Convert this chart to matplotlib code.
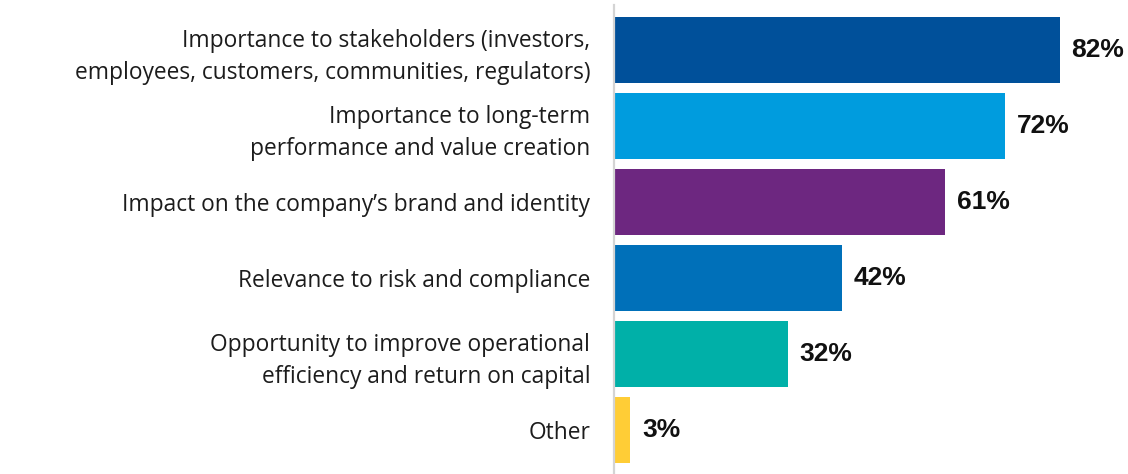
import matplotlib
matplotlib.use('Agg')
import matplotlib.pyplot as plt

# reasons / share of respondents
categories = [
    "Importance to stakeholders (investors,\nemployees, customers, communities, regulators)",
    "Importance to long-term\nperformance and value creation",
    "Impact on the company\u2019s brand and identity",
    "Relevance to risk and compliance",
    "Opportunity to improve operational\nefficiency and return on capital",
    "Other",
]
values = [82, 72, 61, 42, 32, 3]
value_labels = ["82%", "72%", "61%", "42%", "32%", "3%"]
bar_colors = ["#00509A", "#009CDE", "#6D2780", "#0070B9", "#00B0A8", "#FFCD36"]

plt.rcParams['font.family'] = ['Liberation Sans', 'DejaVu Sans']

fig = plt.figure(figsize=(11.28, 4.74), dpi=100)
ax = fig.add_axes([0.5443, 0.0, 0.4557, 0.9895])

pos = list(range(len(categories)))
ax.barh(pos, values, height=0.87, color=bar_colors, left=0)

# value labels to the right of each bar
for p, v, lab in zip(pos, values, value_labels):
    ax.annotate(lab, xy=(v, p), xytext=(8.5, 0), textcoords='offset points',
                va='center', ha='left', fontsize=19, fontweight='bold', color='#111111')

ax.set_yticks(pos)
ax.set_yticklabels(categories, fontsize=16.4, color='#1c1c1c',
                   family=['Open Sans', 'DejaVu Sans'], linespacing=1.44)
ax.tick_params(axis='y', length=0, pad=17)
ax.set_xticks([])

ax.set_xlim(0, 94.6)
ax.set_ylim(5.58, -0.59)

for s in ['top', 'right', 'bottom']:
    ax.spines[s].set_visible(False)
ax.spines['left'].set_color('#d4d4d4')
ax.spines['left'].set_linewidth(1.6)

fig.savefig('out.png', dpi=100)
